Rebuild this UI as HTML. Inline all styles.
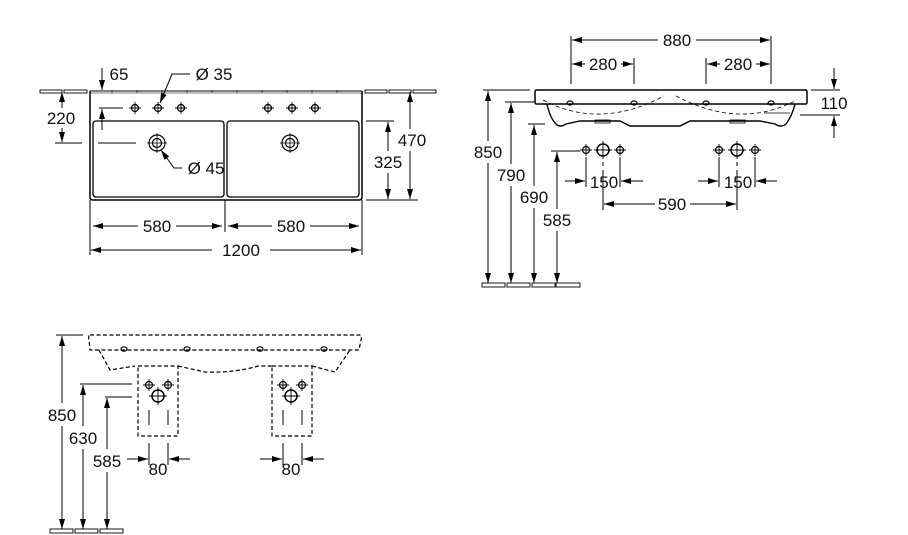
<!DOCTYPE html>
<html><head><meta charset="utf-8"><style>
html,body{margin:0;padding:0;background:#fff;}
svg{display:block;}
text{font-family:"Liberation Sans",Arial,sans-serif;font-size:17px;fill:#111;text-anchor:middle;}
</style></head><body>
<svg width="908" height="535" viewBox="0 0 908 535" xmlns="http://www.w3.org/2000/svg">
<defs>
<marker id="a" viewBox="0 0 10 6" refX="10" refY="3" markerWidth="10" markerHeight="6" markerUnits="userSpaceOnUse" orient="auto"><path d="M0,0 L10,3 L0,6 z" fill="#000"/></marker>
<g id="tap"><circle r="3.5" fill="none" stroke="#000" stroke-width="1.2"/><path d="M-6,0H6M0,-6V6" stroke="#000" stroke-width="0.9"/></g>
<g id="tapb"><circle r="6" fill="none" stroke="#000" stroke-width="1.5"/><path d="M-9,0H9M0,-9V9" stroke="#000" stroke-width="0.9"/></g>
</defs>
<g stroke="#000" stroke-width="1" fill="none">
<!-- ===== TOP VIEW ===== -->
<g stroke-width="0.9" fill="#fff">
<rect x="40" y="90" width="22" height="3"/><rect x="64" y="90" width="23" height="3"/>
<rect x="365" y="90" width="22" height="3"/><rect x="389" y="90" width="22" height="3"/><rect x="413" y="90" width="23" height="3"/>
</g>
<path d="M90,91 H362" stroke-width="1"/>
<path d="M90,93 H362" stroke-width="0.6"/>
<path d="M112,93v-3M137,93v-3M162,93v-3M187,93v-3M212,93v-3M237,93v-3M262,93v-3M287,93v-3M312,93v-3M337,93v-3" stroke-width="0.6"/>
<path d="M90,91 V197 Q90,200 93,200 H359 Q362,200 362,197 V91" stroke-width="1.5"/>
<rect x="93" y="121" width="131" height="76" rx="3" stroke-width="1.3"/>
<rect x="227" y="121" width="132" height="76" rx="3" stroke-width="1.3"/>
<use href="#tap" x="135" y="108"/><use href="#tap" x="158" y="108"/><use href="#tap" x="181" y="108"/>
<use href="#tap" x="268" y="108"/><use href="#tap" x="292" y="108"/><use href="#tap" x="315" y="108"/>
<circle cx="157" cy="143" r="8" stroke-width="1.2"/><circle cx="157" cy="143" r="4.5" stroke-width="1.2"/><path d="M147,143h20M157,133v20" stroke-width="0.8"/>
<circle cx="290" cy="143" r="8" stroke-width="1.2"/><circle cx="290" cy="143" r="4.5" stroke-width="1.2"/><path d="M280,143h20M290,133v20" stroke-width="0.8"/>
<path d="M102,68 V90" marker-end="url(#a)"/>
<path d="M102,130 V109" marker-end="url(#a)"/><path d="M99,108 H123"/>
<path d="M190,74 H172 L160,103" marker-end="url(#a)"/>
<path d="M182,168 H174 L161,150" marker-end="url(#a)"/>
<path d="M62,108 V92" marker-end="url(#a)"/><path d="M62,128 V142" marker-end="url(#a)"/>
<path d="M55,143 H82M98,143 H136"/>
<path d="M366,200 H418M366,121 H394"/>
<path d="M410,129 V92" marker-end="url(#a)"/><path d="M410,151 V199" marker-end="url(#a)"/>
<path d="M388,151 V122" marker-end="url(#a)"/><path d="M388,173 V199" marker-end="url(#a)"/>
<path d="M90,200V255M225,200V232M362,200V255"/>
<path d="M138,226 H93" marker-end="url(#a)"/><path d="M176,226 H222" marker-end="url(#a)"/>
<path d="M272,226 H228" marker-end="url(#a)"/><path d="M310,226 H359" marker-end="url(#a)"/>
<path d="M212,250 H91" marker-end="url(#a)"/><path d="M270,250 H361" marker-end="url(#a)"/>

<!-- ===== SIDE VIEW ===== -->
<path d="M571,36V84M634,58V84M706,58V84M771,36V84"/>
<path d="M658,40 H572" marker-end="url(#a)"/><path d="M696,40 H770" marker-end="url(#a)"/>
<path d="M585,64 H572" marker-end="url(#a)"/><path d="M621,64 H633" marker-end="url(#a)"/>
<path d="M720,64 H707" marker-end="url(#a)"/><path d="M756,64 H770" marker-end="url(#a)"/>
<rect x="535" y="90" width="272" height="14" rx="1.5" stroke-width="1.5"/>
<path d="M547,104 Q550,118 556,124 Q560,128 566,124 L580,121 H620 L630,126 H680 L690,121 H760 L775,124 Q781,128 786,124 Q792,116 795,104" stroke-width="1.4"/>
<rect x="595" y="120" width="15" height="3" stroke-width="0.8"/><rect x="730" y="120" width="15" height="3" stroke-width="0.8"/>
<path d="M543,100 Q600,130 664,96 M676,96 Q740,130 797,100" stroke-dasharray="4,3" stroke-width="0.8"/>
<path d="M764,113 H790" stroke-width="0.8"/>
<g stroke-width="1.2"><ellipse cx="570" cy="103" rx="3" ry="2"/><ellipse cx="634" cy="103" rx="3" ry="2"/><ellipse cx="706" cy="103" rx="3" ry="2"/><ellipse cx="771" cy="103" rx="3" ry="2"/></g>
<path d="M811,90 H840M800,115 H840"/>
<path d="M834,68 V89" marker-end="url(#a)"/><path d="M834,138 V116" marker-end="url(#a)"/>
<path d="M483,90 H530M505,102 H535M528,124 H545M551,151 H580"/>
<path d="M488,141 V91" marker-end="url(#a)"/><path d="M488,163 V283" marker-end="url(#a)"/>
<path d="M511,164 V103" marker-end="url(#a)"/><path d="M511,186 V283" marker-end="url(#a)"/>
<path d="M534,186 V125" marker-end="url(#a)"/><path d="M534,208 V283" marker-end="url(#a)"/>
<path d="M557,209 V152" marker-end="url(#a)"/><path d="M557,231 V283" marker-end="url(#a)"/>
<g stroke-width="0.9" fill="#fff"><rect x="482" y="283" width="23" height="4"/><rect x="507" y="283" width="23" height="4"/><rect x="532" y="283" width="23" height="4"/><rect x="556" y="283" width="24" height="4"/></g>
<use href="#tap" x="586" y="150"/><use href="#tapb" x="603" y="150"/><use href="#tap" x="620" y="150"/>
<use href="#tap" x="719" y="150"/><use href="#tapb" x="737" y="150"/><use href="#tap" x="755" y="150"/>
<path d="M586,157V187M620,157V187M719,157V187M755,157V187"/>
<path d="M603,162V166M603,170V210M737,162V166M737,170V210"/>
<path d="M565,181 H585" marker-end="url(#a)"/><path d="M643,181 H621" marker-end="url(#a)"/>
<path d="M698,181 H718" marker-end="url(#a)"/><path d="M777,181 H756" marker-end="url(#a)"/>
<path d="M655,204 H604" marker-end="url(#a)"/><path d="M690,204 H736" marker-end="url(#a)"/>

<!-- ===== FRONT VIEW ===== -->
<g stroke-dasharray="4,2.5" stroke-width="1.2">
<path d="M90,335 H360 Q362,335 361,340 L359,350 H90 L89,340 Q88,335 90,335 Z"/>
<path d="M99,350 L110,370 L135,366 M178,366 L205,372 Q235,373 258,366 H272 M312,366 L335,372 L350,350"/>
<rect x="138" y="366" width="40" height="70"/>
<rect x="272" y="366" width="40" height="70"/>
</g>
<g stroke-width="1.2"><ellipse cx="124" cy="349" rx="3" ry="2.2"/><ellipse cx="187" cy="349" rx="3" ry="2.2"/><ellipse cx="260" cy="349" rx="3" ry="2.2"/><ellipse cx="324" cy="349" rx="3" ry="2.2"/></g>
<use href="#tap" x="149" y="385"/><use href="#tap" x="168" y="385"/><use href="#tapb" x="158" y="396"/>
<use href="#tap" x="283" y="385"/><use href="#tap" x="302" y="385"/><use href="#tapb" x="291" y="396"/>
<path d="M149,410V425M168,410V425M283,410V425M302,410V425"/>
<path d="M149,443V465M168,443V465M283,443V465M302,443V465"/>
<path d="M127,459 H148" marker-end="url(#a)"/><path d="M190,459 H169" marker-end="url(#a)"/>
<path d="M260,459 H282" marker-end="url(#a)"/><path d="M324,459 H303" marker-end="url(#a)"/>
<path d="M56,335 H83M80,384 H132M105,397 H132"/>
<path d="M62,403 V336" marker-end="url(#a)"/><path d="M62,426 V529" marker-end="url(#a)"/>
<path d="M83,426 V385" marker-end="url(#a)"/><path d="M83,449 V529" marker-end="url(#a)"/>
<path d="M107,449 V398" marker-end="url(#a)"/><path d="M107,472 V529" marker-end="url(#a)"/>
<g stroke-width="0.9" fill="#fff"><rect x="50" y="529" width="23" height="4"/><rect x="75" y="529" width="23" height="4"/><rect x="100" y="529" width="23" height="4"/></g>
</g>
<text x="119" y="80">65</text>
<text x="214" y="80">Ø 35</text>
<text x="206" y="174">Ø 45</text>
<text x="61" y="124">220</text>
<text x="412" y="146">470</text>
<text x="388" y="168">325</text>
<text x="157" y="232">580</text>
<text x="291" y="232">580</text>
<text x="241" y="256">1200</text>
<text x="677" y="46">880</text>
<text x="603" y="70">280</text>
<text x="738" y="70">280</text>
<text x="834" y="109">110</text>
<text x="488" y="158">850</text>
<text x="511" y="181">790</text>
<text x="534" y="203">690</text>
<text x="557" y="226">585</text>
<text x="604" y="188">150</text>
<text x="738" y="188">150</text>
<text x="672" y="210">590</text>
<text x="62" y="421">850</text>
<text x="83" y="444">630</text>
<text x="107" y="467">585</text>
<text x="158" y="475">80</text>
<text x="291" y="475">80</text>
</svg>
</body></html>
